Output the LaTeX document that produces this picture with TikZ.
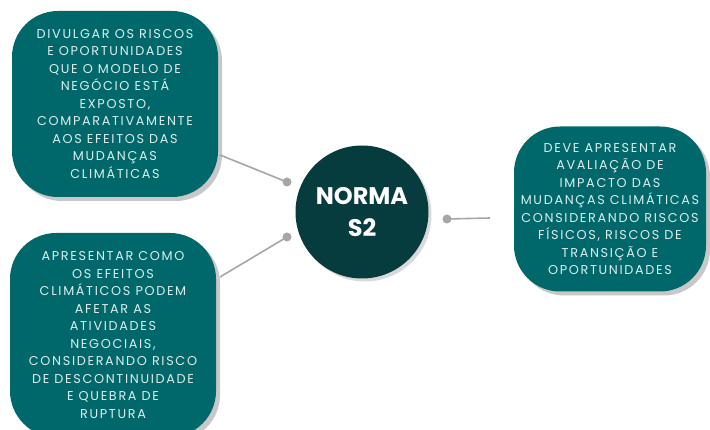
\documentclass[tikz,border=0pt]{standalone}
\usepackage{fontspec}
\usepackage{tikz}
\usetikzlibrary{shadows}
\newfontfamily\boxfont[LetterSpace=13]{Poppins}
\newfontfamily\titlefont{Poppins}
\definecolor{teal}{HTML}{00686A}
\definecolor{deep}{HTML}{073C3E}
\definecolor{boxtext}{HTML}{DCEDEC}
\definecolor{link}{HTML}{A6A6A6}
\definecolor{shade}{HTML}{C8C8C8}
\tikzset{
  box/.style={fill=teal, rounded corners=46pt, text=boxtext, align=center,
    font=\boxfont\fontsize{12.8}{17.5}\selectfont, inner sep=0pt,
    drop shadow={shadow xshift=4pt, shadow yshift=-4pt, fill=shade, opacity=1}},
  hub/.style={circle, fill=deep, text=white, align=center,
    font=\titlefont\bfseries\fontsize{24}{32}\selectfont,
    drop shadow={shadow xshift=3pt, shadow yshift=-3pt, fill=shade!70, opacity=1}},
  line/.style={draw=link, line width=1.6pt},
  dot/.style={circle, fill=link, inner sep=0pt, minimum size=9pt}
}
\begin{document}
\begin{tikzpicture}[x=1pt, y=-1pt]
  \useasboundingbox (0,0) rectangle (710,430);

  \node[box, minimum width=206pt, minimum height=186pt] (risk) at (115,104)
    {DIVULGAR OS RISCOS\\E OPORTUNIDADES\\QUE O MODELO DE\\NEGÓCIO ESTÁ\\EXPOSTO,\\COMPARATIVAMENTE\\AOS EFEITOS DAS\\MUDANÇAS\\CLIMÁTICAS};
  \node[box, minimum width=206pt, minimum height=204pt] (effect) at (113,335)
    {APRESENTAR COMO\\OS EFEITOS\\CLIMÁTICOS PODEM\\AFETAR AS\\ATIVIDADES\\NEGOCIAIS,\\CONSIDERANDO RISCO\\DE DESCONTINUIDADE\\E QUEBRA DE\\RUPTURA};
  \node[box, minimum width=192pt, minimum height=165pt] (impact) at (610,209)
    {DEVE APRESENTAR\\AVALIAÇÃO DE\\IMPACTO DAS\\MUDANÇAS CLIMÁTICAS\\CONSIDERANDO RISCOS\\FÍSICOS, RISCOS DE\\TRANSIÇÃO E\\OPORTUNIDADES};

  \node[hub, minimum size=133pt] (norma) at (362,212) {NORMA\\S2};

  % connectors
  \node[dot] (d1) at (287,182) {};
  \node[dot] (d2) at (287,237) {};
  \node[dot] (d3) at (447,219) {};
  \coordinate (e1) at (220,155);
  \coordinate (e2) at (220,277);
  \coordinate (e3) at (490,218);
  \draw[line] (d1.center) -- (e1);
  \draw[line] (d2.center) -- (e2);
  \draw[line] (d3.center) -- (e3);
\end{tikzpicture}
\end{document}
